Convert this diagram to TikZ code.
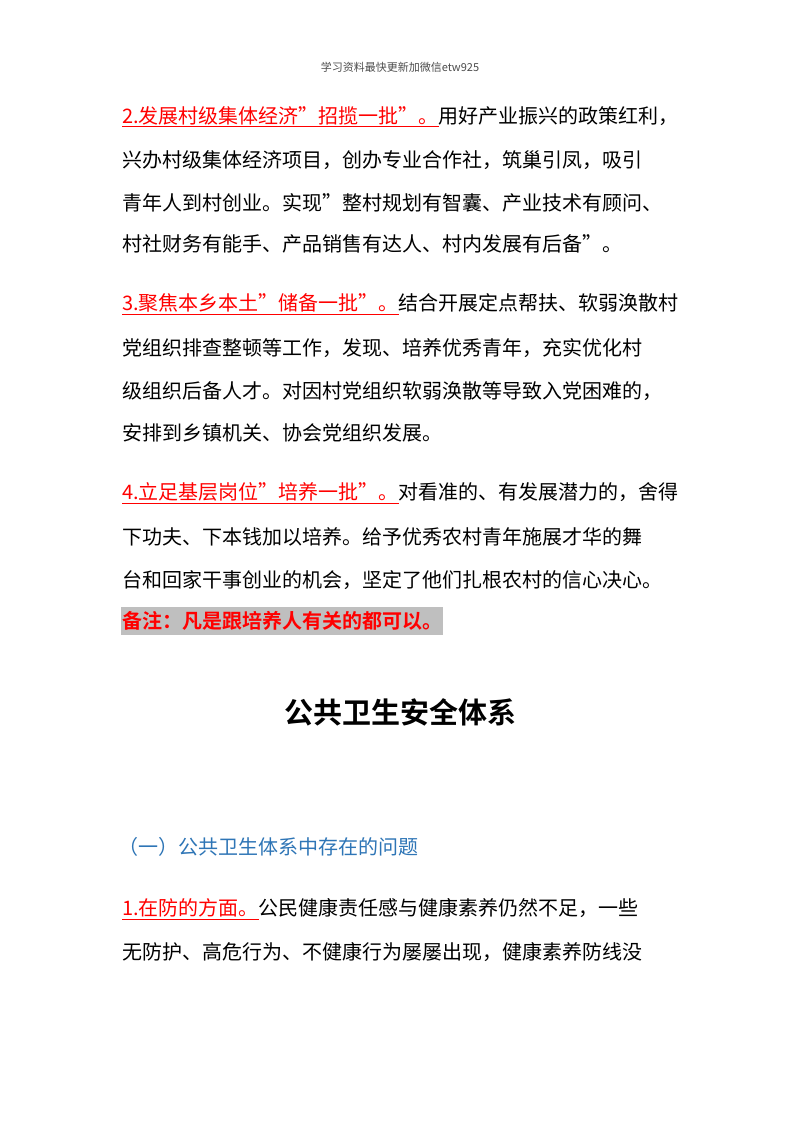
\documentclass[tikz,border=0pt]{standalone}
\usepackage{fontspec}
\setmainfont{Noto Sans CJK SC}
\newfontfamily\cjkb{Noto Sans CJK SC}[BoldFont={* Bold}]
\definecolor{rd}{HTML}{FF0000}
\definecolor{bl}{HTML}{2E75B6}
\definecolor{gr}{HTML}{BFBFBF}
\newcommand{\rdu}[1]{\textcolor{rd}{\underline{#1}}}
\begin{document}
\begin{tikzpicture}[x=1pt,y=-1pt,
  ln/.style={anchor=west,inner sep=0pt,font=\fontsize{20}{24}\selectfont}]
\useasboundingbox[fill=white] (0,0) rectangle (800,1132);
\node[inner sep=0pt,text=black!70,font=\fontsize{11}{13}\selectfont] (hd) at (400,67) {学习资料最快更新加微信etw925};
\node[ln] (a1) at (122,117) {\rdu{2.发展村级集体经济"招揽一批"。}用好产业振兴的政策红利，};
\node[ln] (a2) at (122,160) {兴办村级集体经济项目，创办专业合作社，筑巢引凤，吸引};
\node[ln] (a3) at (122,203) {青年人到村创业。实现"整村规划有智囊、产业技术有顾问、};
\node[ln] (a4) at (122,244) {村社财务有能手、产品销售有达人、村内发展有后备"。};
\node[ln] (b1) at (122,304) {\rdu{3.聚焦本乡本土"储备一批"。}结合开展定点帮扶、软弱涣散村};
\node[ln] (b2) at (122,348) {党组织排查整顿等工作，发现、培养优秀青年，充实优化村};
\node[ln] (b3) at (122,391) {级组织后备人才。对因村党组织软弱涣散等导致入党困难的，};
\node[ln] (b4) at (122,433) {安排到乡镇机关、协会党组织发展。};
\node[ln] (c1) at (122,493) {\rdu{4.立足基层岗位"培养一批"。}对看准的、有发展潜力的，舍得};
\node[ln] (c2) at (122,537) {下功夫、下本钱加以培养。给予优秀农村青年施展才华的舞};
\node[ln] (c3) at (122,580) {台和回家干事创业的机会，坚定了他们扎根农村的信心决心。};
\node[ln,fill=gr,inner xsep=1pt,inner ysep=4pt,text=rd,font=\fontsize{20}{24}\cjkb\bfseries] (c4) at (121,621) {备注：凡是跟培养人有关的都可以。};
\node[inner sep=0pt,font=\fontsize{29}{34}\cjkb\bfseries] (t) at (400,712) {公共卫生安全体系};
\node[ln,text=bl] (s) at (118,847) {（一）公共卫生体系中存在的问题};
\node[ln] (d1) at (122,909) {\rdu{1.在防的方面。}公民健康责任感与健康素养仍然不足，一些};
\node[ln] (d2) at (122,952) {无防护、高危行为、不健康行为屡屡出现，健康素养防线没};
\end{tikzpicture}
\end{document}
